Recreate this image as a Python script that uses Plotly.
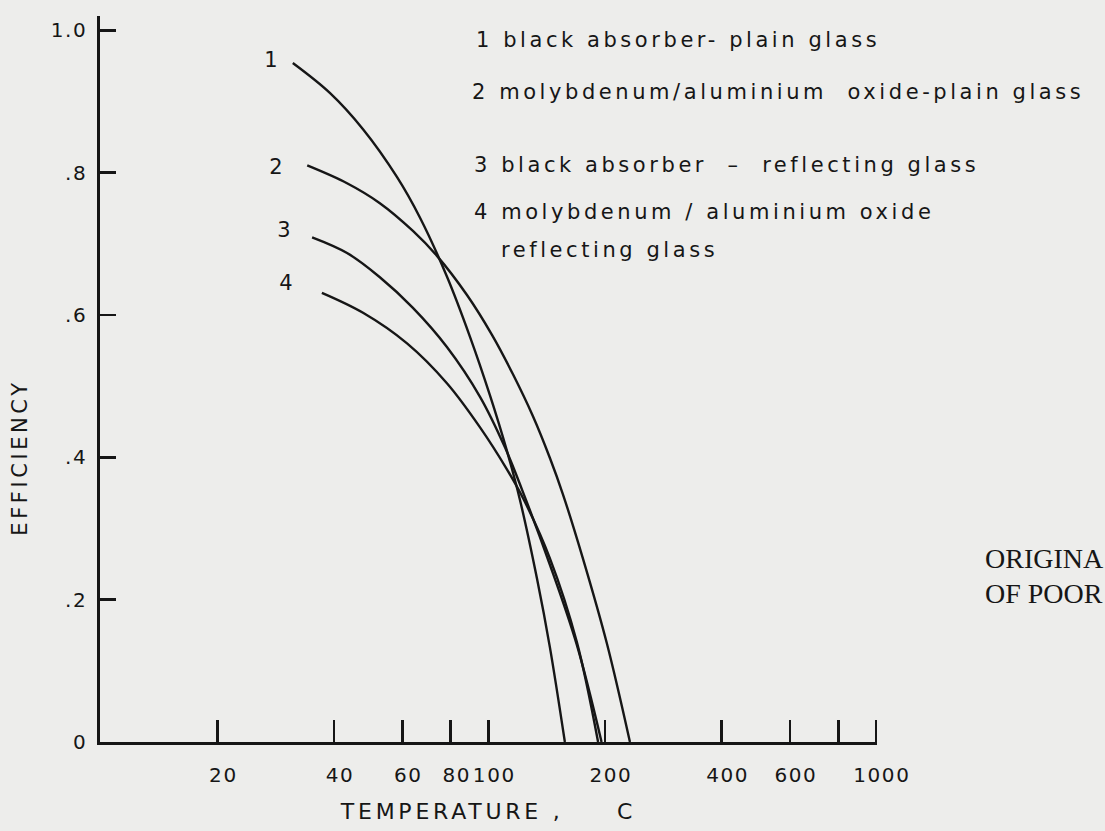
import plotly.graph_objects as go

# ---- data ----
tick_temps = [20, 40, 60, 80, 100, 200, 400, 600, 800, 1000]
tick_temp_labels = ["20", "40", "60", "80", "100", "200", "400", "600", "", "1000"]
eff_ticks = [0, 0.2, 0.4, 0.6, 0.8, 1.0]
eff_tick_labels = ["0", ".2", ".4", ".6", ".8", "1.0"]

curve1_T = [31.3, 39.0, 47.5, 58.1, 66.6, 78.2, 89.6, 101.0, 111.7, 120.7, 133.5, 144.2, 157.6]
curve1_E = [0.954, 0.912, 0.861, 0.794, 0.737, 0.654, 0.570, 0.487, 0.409, 0.340, 0.230, 0.133, 0.0]

curve2_T = [34.1, 43.2, 52.5, 63.9, 73.7, 88.1, 102.2, 115.7, 130.3, 144.2, 155.8, 175.4, 202.4, 232.0]
curve2_E = [0.810, 0.785, 0.757, 0.718, 0.683, 0.628, 0.572, 0.517, 0.458, 0.399, 0.348, 0.258, 0.138, 0.0]

curve3_T = [35.1, 43.2, 52.5, 63.9, 78.2, 95.2, 110.4, 122.1, 144.2, 169.3, 196.0]
curve3_E = [0.709, 0.687, 0.653, 0.610, 0.555, 0.485, 0.414, 0.355, 0.249, 0.136, 0.0]

curve4_T = [37.2, 47.5, 61.7, 78.2, 95.2, 111.7, 123.6, 144.2, 169.3, 192.0]
curve4_E = [0.631, 0.603, 0.560, 0.504, 0.442, 0.383, 0.340, 0.258, 0.140, 0.0]

curve_ids = ["1", "2", "3", "4"]
legend_lines = [
    "1 black absorber- plain glass",
    "2 molybdenum/aluminium\u00a0 oxide-plain glass",
    "3 black absorber\u00a0 \u2013 \u00a0reflecting glass",
    "4 molybdenum / aluminium oxide",
    "reflecting glass",
]
stamp_lines = ["ORIGINA", "OF POOR"]

# ---- style ----
BG = "#ededeb"
INK = "#161616"
FONT = "DejaVu Sans"

fig = go.Figure()
for T, E in [(curve1_T, curve1_E), (curve2_T, curve2_E), (curve3_T, curve3_E), (curve4_T, curve4_E)]:
    fig.add_trace(go.Scatter(x=T, y=E, mode="lines",
                             line=dict(color=INK, width=2.4, shape="spline", smoothing=1.0),
                             showlegend=False, hoverinfo="skip"))

annotations = []
# curve numbers
for txt, (px, py) in zip(curve_ids, [(0.2216, 0.9394), (0.2281, 0.792), (0.2384, 0.7052), (0.241, 0.6322)]):
    annotations.append(dict(text=txt, x=px, y=py, xref="paper", yref="paper", showarrow=False,
                            xanchor="center", yanchor="middle", font=dict(family=FONT, size=21, color=INK)))
# key text
for txt, (px, py) in zip(legend_lines, [(0.4807, 0.967), (0.4768, 0.8953), (0.4794, 0.7948),
                                         (0.4794, 0.730), (0.5129, 0.6777)]):
    annotations.append(dict(text=txt, x=px, y=py, xref="paper", yref="paper", showarrow=False,
                            xanchor="left", yanchor="middle", align="left",
                            font=dict(family=FONT, size=21, color=INK)))
# y title
annotations.append(dict(text="EFFICIENCY", x=-0.1031, y=0.3926, xref="paper", yref="paper",
                        showarrow=False, textangle=-90, xanchor="center", yanchor="middle",
                        font=dict(family=FONT, size=21, color=INK)))
# stamp on the right edge
for txt, py in zip(stamp_lines, [0.2534, 0.2052]):
    annotations.append(dict(text=txt, x=1.1366, y=py, xref="paper", yref="paper", showarrow=False,
                            xanchor="left", yanchor="middle", align="left",
                            font=dict(family="Liberation Serif", size=28, color=INK)))

fig.update_layout(
    width=1105, height=831,
    margin=dict(l=100, r=228, t=16, b=89),
    paper_bgcolor=BG, plot_bgcolor=BG,
    font=dict(family=FONT, color=INK),
    annotations=annotations,
    xaxis=dict(type="log", range=[0.998, 3.003], tickvals=tick_temps, ticktext=tick_temp_labels,
               ticks="inside", ticklen=22, tickwidth=2.6, tickcolor=INK,
               showline=True, linecolor=INK, linewidth=2.6, showgrid=False, zeroline=False,
               tickfont=dict(family=FONT, size=20, color=INK), ticklabelstandoff=13,
               ticklabelshift=6,
               title=dict(text="TEMPERATURE ,\u00a0\u00a0\u00a0\u00a0 C", standoff=18,
                          font=dict(family=FONT, size=22, color=INK))),
    yaxis=dict(range=[0, 1.02], tickvals=eff_ticks, ticktext=eff_tick_labels,
               ticks="inside", ticklen=16, tickwidth=2.6, tickcolor=INK,
               showline=True, linecolor=INK, linewidth=2.6, showgrid=False, zeroline=False,
               tickfont=dict(family=FONT, size=20, color=INK), ticklabelstandoff=6),
)

post = """
document.body.style.margin = '0';
var gd = document.getElementById('{plot_id}');
gd.querySelectorAll('.xtick text, .ytick text').forEach(function(t){ t.style.letterSpacing = '0.08em'; });
gd.querySelectorAll('.g-xtitle text, .annotation-text').forEach(function(t){
  var ff = (t.style.fontFamily || '');
  if (ff.indexOf('Serif') === -1) { t.style.letterSpacing = '0.17em'; }
});
"""
fig.write_html("out.html", post_script=post, config={"displayModeBar": False, "staticPlot": True})
